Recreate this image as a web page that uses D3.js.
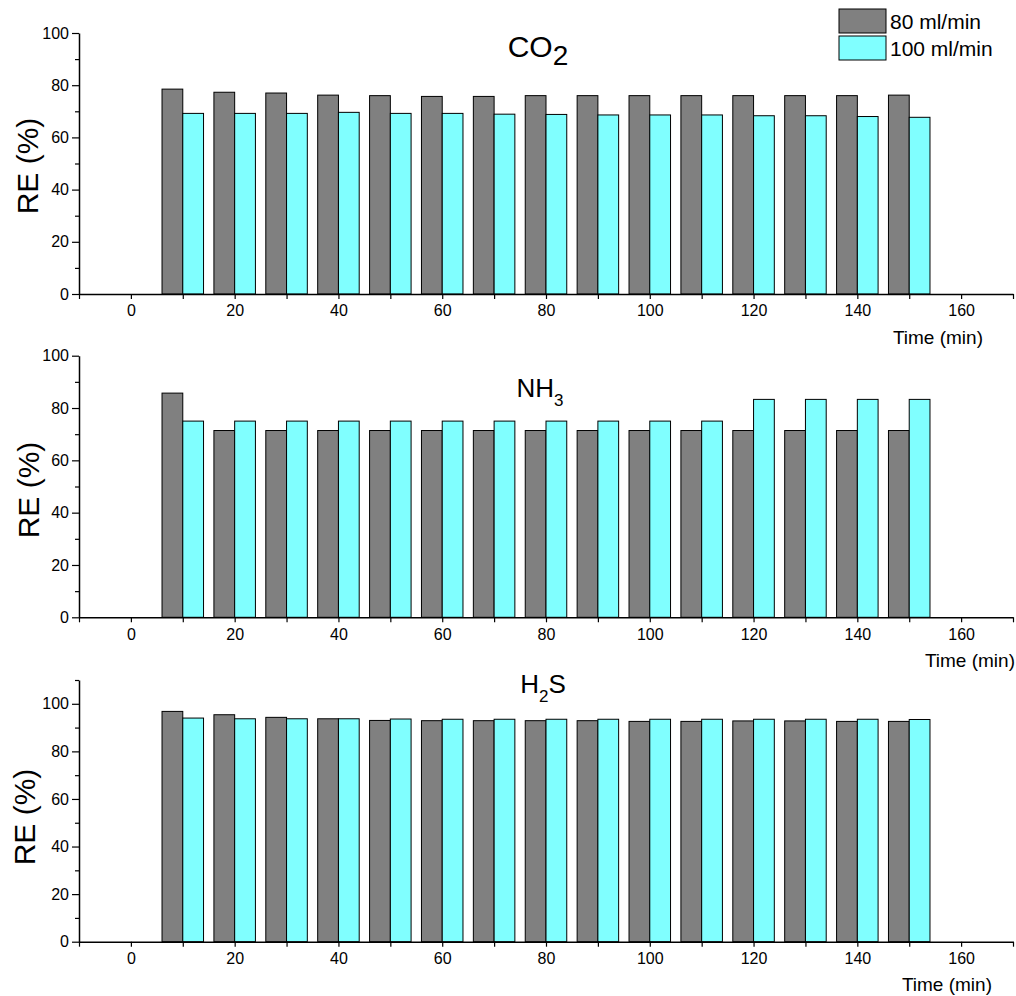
<!DOCTYPE html>
<html>
<head>
  <title>RE vs time</title>
  <script src="https://d3js.org/d3.v7.min.js"></script>
  <style>
    body { margin: 0; background: #fff; }
    text { font-family: "Liberation Sans", Arial, sans-serif; fill: #000; }
  </style>
</head>
<body>
  <div id="chart1"></div>
  <script>
    // sampling times (min)
    const times = [10, 20, 30, 40, 50, 60, 70, 80, 90, 100, 110, 120, 130, 140, 150];
    const seriesNames = ["80 ml/min", "100 ml/min"];

    const co2_80  = [78.5, 77.3, 77.0, 76.2, 76.0, 75.7, 75.7, 76.0, 76.0, 76.0, 76.0, 76.0, 76.0, 76.0, 76.2];
    const co2_100 = [69.2, 69.2, 69.2, 69.6, 69.2, 69.2, 68.9, 68.8, 68.6, 68.6, 68.6, 68.3, 68.3, 68.0, 67.7];

    const nh3_80  = [85.7, 71.4, 71.4, 71.4, 71.4, 71.4, 71.4, 71.4, 71.4, 71.4, 71.4, 71.4, 71.4, 71.4, 71.4];
    const nh3_100 = [75.0, 75.0, 75.0, 75.0, 75.0, 75.0, 75.0, 75.0, 75.0, 75.0, 75.0, 83.3, 83.3, 83.3, 83.3];

    const h2s_80  = [96.8, 95.4, 94.3, 93.7, 93.0, 92.9, 92.9, 92.9, 92.9, 92.6, 92.6, 92.8, 92.8, 92.6, 92.6];
    const h2s_100 = [94.0, 93.7, 93.7, 93.7, 93.6, 93.5, 93.5, 93.5, 93.5, 93.5, 93.5, 93.5, 93.5, 93.5, 93.4];

    const colors = ["#808080", "#80ffff"];
    const barWidth = 4; // minutes

    const svg = d3.select("#chart1").append("svg")
      .attr("width", 1016).attr("height", 996);

    const x = d3.scaleLinear().domain([-10, 170]).range([79, 1013]);

    const panels = [
      { title: ["CO", "2"], titleSize: 30, subSize: 28, subDy: 8, titleX: 538, titleY: 57,
        a: co2_80, b: co2_100, yMax: 100, top: 33, bottom: 294,
        timeX: 983, timeY: 344, labelX: 27, labelY: 166 },
      { title: ["NH", "3"], titleSize: 26, subSize: 17, subDy: 9, titleX: 540, titleY: 397,
        a: nh3_80, b: nh3_100, yMax: 100, top: 355.7, bottom: 617.3,
        timeX: 1015, timeY: 667, labelX: 28, labelY: 490 },
      { title: ["H", "2", "S"], titleSize: 26, subSize: 17, subDy: 9, titleX: 543, titleY: 693,
        a: h2s_80, b: h2s_100, yMax: 110, top: 680, bottom: 941.7,
        timeX: 992, timeY: 991, labelX: 24, labelY: 817 }
    ];

    panels.forEach(p => {
      const y = d3.scaleLinear().domain([0, p.yMax]).range([p.bottom, p.top]);
      const g = svg.append("g");

      // bars
      const rows = times.map((t, i) => ({ t: t, a: p.a[i], b: p.b[i] }));
      g.selectAll(".barA").data(rows).enter().append("rect")
        .attr("x", d => x(d.t - barWidth))
        .attr("width", d => x(d.t) - x(d.t - barWidth))
        .attr("y", d => y(d.a))
        .attr("height", d => y(0) - y(d.a))
        .attr("fill", colors[0]).attr("stroke", "#000").attr("stroke-width", 1);
      g.selectAll(".barB").data(rows).enter().append("rect")
        .attr("x", d => x(d.t))
        .attr("width", d => x(d.t + barWidth) - x(d.t))
        .attr("y", d => y(d.b))
        .attr("height", d => y(0) - y(d.b))
        .attr("fill", colors[1]).attr("stroke", "#000").attr("stroke-width", 1);

      // x axis
      const xg = g.append("g").attr("transform", "translate(0," + p.bottom + ")");
      xg.call(d3.axisBottom(x).tickValues(d3.range(0, 161, 20)).tickSize(5).tickSizeOuter(0).tickPadding(6));
      const xm = g.append("g").attr("transform", "translate(0," + p.bottom + ")");
      xm.call(d3.axisBottom(x).tickValues(d3.range(-10, 171, 20)).tickSize(5).tickFormat(""));
      xm.select(".domain").remove();

      // y axis
      const yg = g.append("g").attr("transform", "translate(" + x(-10) + ",0)");
      yg.call(d3.axisLeft(y).tickValues(d3.range(0, 101, 20)).tickSize(7).tickSizeOuter(0).tickPadding(3));
      const ym = g.append("g").attr("transform", "translate(" + x(-10) + ",0)");
      ym.call(d3.axisLeft(y).tickValues(d3.range(10, p.yMax + 1, 20)).tickSize(4).tickFormat(""));
      ym.select(".domain").remove();

      g.selectAll(".domain").attr("stroke-width", 1.5);
      g.selectAll(".tick line").attr("stroke-width", 1.2);
      g.selectAll(".tick text").style("font-size", "16px").attr("fill", "#000");

      // title with subscript
      const tt = g.append("text")
        .attr("x", p.titleX).attr("y", p.titleY)
        .attr("text-anchor", "middle")
        .style("font-size", p.titleSize + "px");
      p.title.forEach((s, i) => {
        const span = tt.append("tspan").text(s);
        if (i === 1) span.attr("dy", p.subDy).style("font-size", p.subSize + "px");
        if (i === 2) span.attr("dy", -p.subDy);
      });

      g.append("text")
        .attr("x", p.timeX).attr("y", p.timeY)
        .attr("text-anchor", "end")
        .style("font-size", "19px")
        .text("Time (min)");

      g.append("text")
        .attr("transform", "translate(" + p.labelX + "," + p.labelY + ") rotate(-90)")
        .attr("text-anchor", "middle")
        .attr("dominant-baseline", "central")
        .style("font-size", "30px")
        .text("RE (%)");
    });

    // legend
    const legend = svg.append("g");
    seriesNames.forEach((name, i) => {
      legend.append("rect")
        .attr("x", 839).attr("y", 9 + i * 27)
        .attr("width", 47).attr("height", 24)
        .attr("fill", colors[i]).attr("stroke", "#000").attr("stroke-width", 1);
      legend.append("text")
        .attr("x", 890).attr("y", 29 + i * 27)
        .style("font-size", "21px")
        .text(name);
    });
  </script>
</body>
</html>
